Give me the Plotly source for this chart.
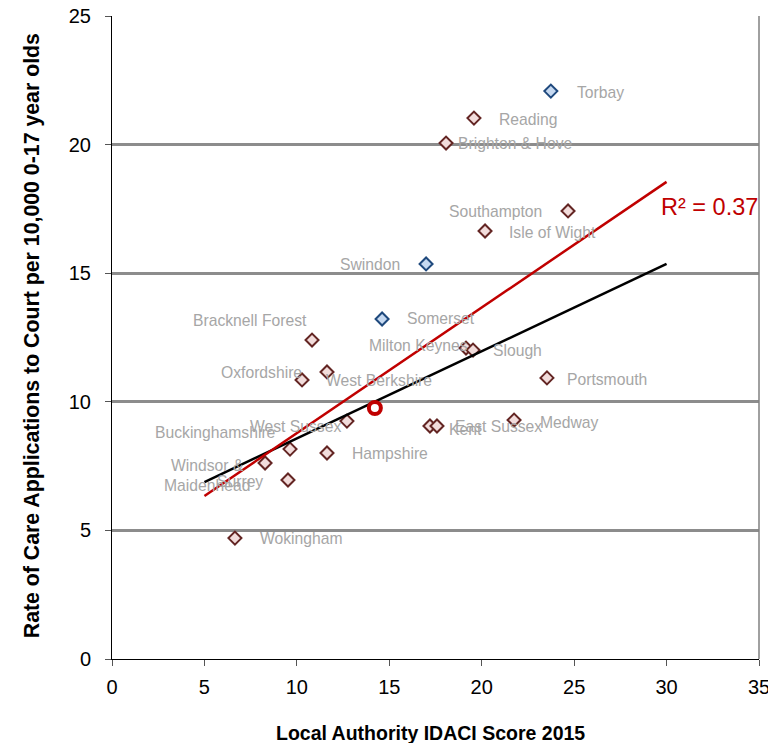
import plotly.graph_objects as go

# ---------------- data ----------------
authorities = ["Torbay", "Reading", "Brighton & Hove", "Southampton", "Isle of Wight",
               "Swindon", "Somerset", "Bracknell Forest", "Milton Keynes", "Slough",
               "Oxfordshire", "West Berkshire", "Portsmouth", "Medway", "Kent",
               "East Sussex", "West Sussex", "Hampshire", "Buckinghamshire",
               "Windsor &<br>Maidenhead", "Surrey", "Wokingham"]
idaci = [23.74, 19.58, 18.07, 24.67, 20.18,
         16.99, 14.61, 10.82, 19.15, 19.53,
         10.28, 11.63, 23.53, 21.75, 17.20,
         17.58, 12.71, 11.63, 9.63,
         8.28, 9.52, 6.65]
care_rate = [22.08, 21.03, 20.06, 17.42, 16.64,
             15.36, 13.22, 12.40, 12.09, 12.01,
             10.85, 11.16, 10.93, 9.29, 9.06,
             9.06, 9.25, 8.01, 8.16,
             7.62, 6.96, 4.70]
highlight = ["Torbay", "Swindon", "Somerset"]  # blue markers

england_idaci = [14.22]
england_rate = [9.76]

trend_x = [5, 30]
trend_black_y = [6.88, 15.36]
trend_red_y = [6.34, 18.55]
r2_text = "R² = 0.37"
r2_pos = (29.58, 17.57)

x_ticks = [0, 5, 10, 15, 20, 25, 30, 35]
y_ticks = [0, 5, 10, 15, 20, 25]

# label placement: (xanchor, xshift px, yshift px)
label_place = {
    "Torbay": ("left", 24, -1),
    "Reading": ("left", 23, -1),
    "Brighton & Hove": ("left", 10, 0),
    "Southampton": ("right", -24, -1),
    "Isle of Wight": ("left", 22, -1),
    "Swindon": ("right", -24, -1),
    "Somerset": ("left", 23, 0),
    "Bracknell Forest": ("right", -3, 20),
    "Milton Keynes": ("right", 4, 3),
    "Slough": ("left", 18, 0),
    "Oxfordshire": ("right", 2, 7),
    "West Berkshire": ("left", -3, -9),
    "Portsmouth": ("left", 18, -2),
    "Medway": ("left", 24, -2),
    "Kent": ("left", 17, -4),
    "East Sussex": ("left", 16, -1),
    "West Sussex": ("right", -4, -5),
    "Hampshire": ("left", 23, -1),
    "Buckinghamshire": ("right", -12, 17),
    "Windsor &<br>Maidenhead": ("center", -58, -12),
    "Surrey": ("right", -23, -2),
    "Wokingham": ("left", 23, 0),
}

FONT = "Liberation Sans, Arial, sans-serif"
RED = "#c00000"
LABEL_GREY = "#a6a6a6"

fill_cols = ["#c6d9f1" if a in highlight else "#f2dcdb" for a in authorities]
line_cols = ["#1f497d" if a in highlight else "#632523" for a in authorities]

fig = go.Figure()

fig.add_trace(go.Scatter(
    x=idaci, y=care_rate, mode="markers",
    marker=dict(symbol="diamond", size=10, color=fill_cols,
                line=dict(color=line_cols, width=2)),
    hoverinfo="skip"))

fig.add_trace(go.Scatter(x=trend_x, y=trend_black_y, mode="lines",
                         line=dict(color="black", width=2.5), hoverinfo="skip"))
fig.add_trace(go.Scatter(x=trend_x, y=trend_red_y, mode="lines",
                         line=dict(color=RED, width=2.5), hoverinfo="skip"))

fig.add_trace(go.Scatter(
    x=england_idaci, y=england_rate, mode="markers",
    marker=dict(symbol="circle", size=12, color="white",
                line=dict(color=RED, width=4)),
    hoverinfo="skip"))

annotations = []
for name, xv, yv in zip(authorities, idaci, care_rate):
    anchor, dx, dy = label_place[name]
    annotations.append(dict(
        x=xv, y=yv, xref="x", yref="y", text=name, showarrow=False,
        xanchor=anchor, yanchor="middle", xshift=dx, yshift=dy,
        align="center", font=dict(family=FONT, size=15.7, color=LABEL_GREY)))

annotations.append(dict(
    x=r2_pos[0], y=r2_pos[1], xref="x", yref="y", text=r2_text, showarrow=False,
    xanchor="left", yanchor="middle", font=dict(family=FONT, size=23.5, color=RED)))

annotations.append(dict(
    x=-0.1236, y=0.502, xref="paper", yref="paper", showarrow=False,
    text="<b>Rate of Care Applications to Court per 10,000 0-17 year olds</b>",
    textangle=-90, xanchor="center", yanchor="middle",
    font=dict(family=FONT, size=21.3, color="black")))
annotations.append(dict(
    x=0.4915, y=-0.115, xref="paper", yref="paper", showarrow=False,
    text="<b>Local Authority IDACI Score 2015</b>",
    xanchor="center", yanchor="middle",
    font=dict(family=FONT, size=19.5, color="black")))

fig.update_layout(
    width=768, height=735,
    margin=dict(l=104, r=17, t=8, b=84),
    paper_bgcolor="white", plot_bgcolor="white",
    showlegend=False,
    annotations=annotations,
    shapes=[dict(type="line", xref="paper", yref="paper", x0=1, x1=1, y0=0, y1=1,
                 line=dict(color="#808080", width=1.5))],
    xaxis=dict(range=[0, 35], tickvals=x_ticks, showgrid=False, zeroline=False,
               automargin=False, ticklabeloverflow="allow",
               showline=True, linecolor="black", linewidth=1,
               ticks="outside", ticklen=6, tickcolor="#555555",
               ticklabelstandoff=4,
               tickfont=dict(family=FONT, size=20, color="black")),
    yaxis=dict(range=[0, 25], tickvals=y_ticks, showgrid=True,
               automargin=False, ticklabeloverflow="allow",
               gridcolor="#8c8c8c", gridwidth=2.5, zeroline=False,
               showline=True, linecolor="black", linewidth=1,
               ticks="outside", ticklen=6, tickcolor="#555555",
               ticklabelstandoff=10,
               tickfont=dict(family=FONT, size=20, color="black")),
)

fig.write_html("out.html")
